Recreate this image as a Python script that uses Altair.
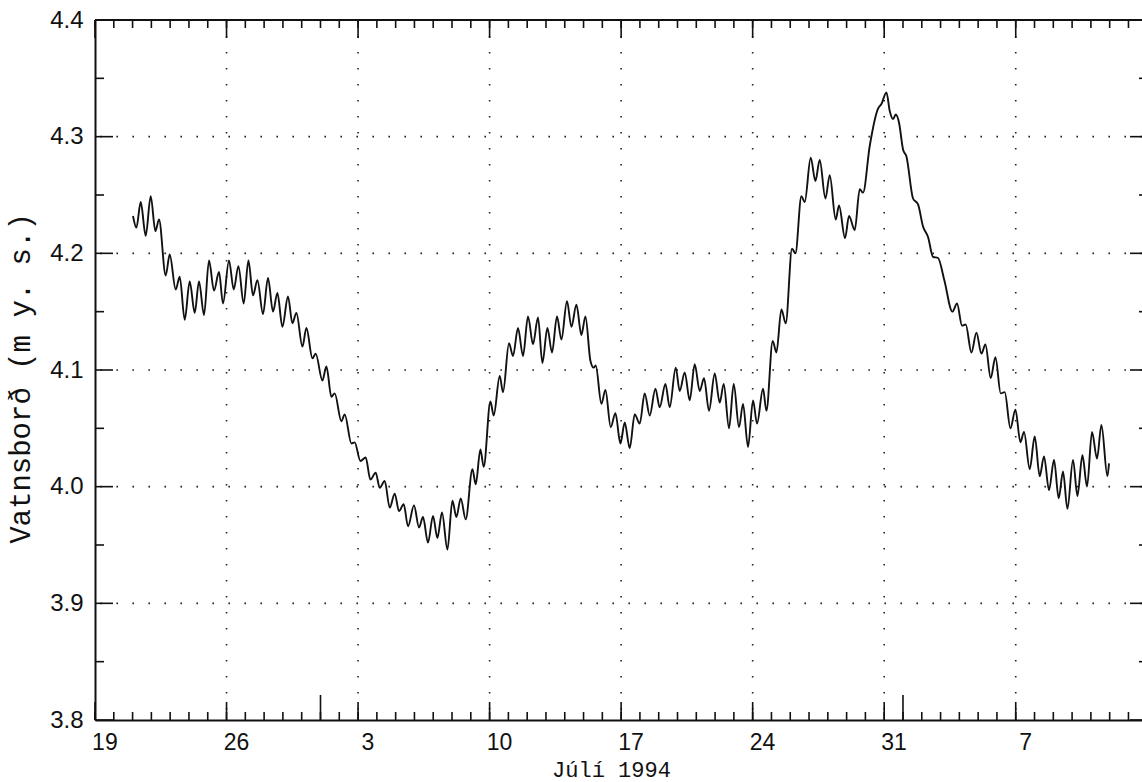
import altair as alt
import pandas as pd

# Turning points of the water-level trace: days after 1994-06-19 00:00 and level (m y. s.)
days = [2.022, 2.203, 2.432, 2.698, 2.964, 3.214, 3.406, 3.763, 3.976, 4.295,
        4.508, 4.774, 5.040, 5.306, 5.535, 5.801, 6.067, 6.333, 6.599, 6.812,
        7.131, 7.382, 7.632, 7.914, 8.164, 8.409, 8.643, 8.941, 9.207, 9.473,
        9.707, 9.973, 10.271, 10.506, 10.719, 11.038, 11.251, 11.570, 11.746, 12.102,
        12.315, 12.581, 12.757, 13.113, 13.289, 13.646, 13.821, 14.125, 14.407, 14.657,
        14.939, 15.152, 15.418, 15.684, 15.950, 16.179, 16.429, 16.658, 16.977, 17.243,
        17.456, 17.722, 17.988, 18.222, 18.467, 18.755, 19.021, 19.234, 19.463, 19.729,
        20.086, 20.261, 20.511, 20.687, 21.043, 21.219, 21.538, 21.714, 22.033, 22.246,
        22.512, 22.778, 23.044, 23.310, 23.576, 23.810, 24.076, 24.321, 24.587, 24.821,
        25.119, 25.354, 25.620, 25.886, 26.099, 26.365, 26.541, 26.648, 26.951, 27.164,
        27.446, 27.696, 27.962, 28.191, 28.457, 28.723, 28.989, 29.255, 29.521, 29.825,
        30.053, 30.357, 30.586, 30.905, 31.118, 31.384, 31.650, 31.916, 32.182, 32.411,
        32.677, 32.981, 33.247, 33.460, 33.742, 33.992, 34.274, 34.487, 34.753, 35.019,
        35.232, 35.551, 35.732, 36.067, 36.264, 36.530, 36.759, 37.094, 37.275, 37.594,
        37.770, 38.089, 38.339, 38.568, 38.872, 39.101, 39.420, 39.596, 39.915, 40.128,
        40.432, 40.698, 40.873, 41.230, 41.672, 41.853, 42.119, 42.295, 42.470, 42.614,
        42.790, 43.003, 43.184, 43.535, 43.801, 44.067, 44.333, 44.599, 44.866, 45.200,
        45.631, 45.876, 46.142, 46.339, 46.642, 46.908, 47.174, 47.387, 47.669, 47.919,
        48.201, 48.414, 48.718, 48.984, 49.250, 49.441, 49.744, 50.010, 50.277, 50.505,
        50.771, 51.037, 51.288, 51.516, 51.751, 52.049, 52.283, 52.549, 52.794, 53.060,
        53.326, 53.560, 53.879, 53.965]
level = [4.232, 4.222, 4.244, 4.215, 4.249, 4.219, 4.229, 4.181, 4.199, 4.169,
         4.180, 4.143, 4.176, 4.149, 4.176, 4.147, 4.194, 4.168, 4.184, 4.157,
         4.194, 4.169, 4.189, 4.157, 4.194, 4.164, 4.177, 4.148, 4.179, 4.150,
         4.166, 4.137, 4.163, 4.140, 4.149, 4.120, 4.136, 4.110, 4.114, 4.091,
         4.103, 4.077, 4.080, 4.056, 4.062, 4.037, 4.038, 4.022, 4.025, 4.006,
         4.012, 3.999, 4.005, 3.982, 3.994, 3.979, 3.985, 3.966, 3.984, 3.965,
         3.974, 3.952, 3.975, 3.956, 3.978, 3.946, 3.988, 3.974, 3.990, 3.972,
         4.015, 4.002, 4.032, 4.017, 4.073, 4.061, 4.095, 4.081, 4.123, 4.112,
         4.136, 4.112, 4.146, 4.122, 4.145, 4.106, 4.136, 4.115, 4.146, 4.126,
         4.159, 4.137, 4.156, 4.130, 4.146, 4.108, 4.102, 4.104, 4.071, 4.083,
         4.051, 4.063, 4.037, 4.055, 4.033, 4.062, 4.054, 4.080, 4.061, 4.084,
         4.068, 4.088, 4.068, 4.102, 4.082, 4.098, 4.074, 4.105, 4.082, 4.093,
         4.065, 4.097, 4.072, 4.088, 4.050, 4.088, 4.051, 4.071, 4.034, 4.074,
         4.054, 4.084, 4.065, 4.125, 4.115, 4.152, 4.140, 4.204, 4.200, 4.249,
         4.244, 4.282, 4.262, 4.280, 4.247, 4.267, 4.229, 4.241, 4.213, 4.232,
         4.220, 4.255, 4.252, 4.292, 4.324, 4.328, 4.338, 4.322, 4.315, 4.319,
         4.312, 4.289, 4.283, 4.247, 4.242, 4.223, 4.214, 4.197, 4.196, 4.177,
         4.150, 4.157, 4.138, 4.139, 4.115, 4.132, 4.114, 4.122, 4.093, 4.111,
         4.080, 4.081, 4.050, 4.066, 4.038, 4.047, 4.015, 4.043, 4.009, 4.026,
         3.997, 4.023, 3.990, 4.013, 3.981, 4.023, 3.992, 4.027, 4.000, 4.047,
         4.024, 4.053, 4.009, 4.020]

y_labels = [3.8, 3.9, 4.0, 4.1, 4.2, 4.3, 4.4]
y_minor = [3.85, 3.95, 4.05, 4.15, 4.25, 4.35]
y_grid = [3.9, 4.0, 4.1, 4.2, 4.3]
week_starts = ["1994-06-19", "1994-06-26", "1994-07-03", "1994-07-10",
               "1994-07-17", "1994-07-24", "1994-07-31", "1994-08-07"]
month_starts = ["1994-07-01", "1994-08-01"]
first_day = "1994-06-19"
n_days = 56

W, H = 1047, 700
start = pd.Timestamp(first_day)
line_df = pd.DataFrame({"t": start + pd.to_timedelta(days, unit="D"), "v": level})
day_df = pd.DataFrame({"t": pd.date_range(first_day, periods=n_days, freq="D")})
week_df = pd.DataFrame({"t": pd.to_datetime(week_starts)})
grid_x_df = pd.DataFrame({"t": pd.to_datetime(week_starts[1:])})
month_df = pd.DataFrame({"t": pd.to_datetime(month_starts)})
ymaj_df = pd.DataFrame({"v": y_labels})
ymin_df = pd.DataFrame({"v": y_minor})
ygrid_df = pd.DataFrame({"v": y_grid})
top_df = pd.DataFrame({"v": [y_labels[-1]]})

label_values = [alt.DateTime(year=int(s[:4]), month=int(s[5:7]), date=int(s[8:]), hours=12)
                for s in week_starts]

xscale = alt.Scale(domain=[alt.DateTime(year=1994, month=6, date=19),
                           alt.DateTime(year=1994, month=8, date=13, hours=17, minutes=17)])
yscale = alt.Scale(domain=[3.8, 4.4], nice=False, zero=False)

xaxis = alt.Axis(values=label_values, format="%-d", ticks=False, grid=False,
                 domain=True, domainColor="#111", domainWidth=2,
                 labelFont="Liberation Sans", labelFontSize=23, labelColor="#111",
                 labelPadding=11, labelAngle=0, labelFlush=False,
                 title="Júlí 1994", titleFont="Liberation Mono", titleFontSize=22,
                 titleFontWeight="normal", titleColor="#111",
                 titleX=516, titleY=56, titleBaseline="alphabetic", titleAnchor="middle")
yaxis = alt.Axis(values=y_labels, format=".1f", ticks=False, grid=False,
                 domain=True, domainColor="#111", domainWidth=2,
                 labelFont="Liberation Sans", labelFontSize=24, labelColor="#111",
                 labelPadding=12, labelFlush=False,
                 title="Vatnsborð (m y. s.)", titleFont="Liberation Mono", titleFontSize=29,
                 titleFontWeight="normal", titleColor="#111",
                 titleX=-66, titleY=358, titleBaseline="alphabetic", titleAngle=270)

X = lambda: alt.X("t:T", scale=xscale, axis=xaxis)
Y = lambda: alt.Y("v:Q", scale=yscale, axis=yaxis)

dot = dict(color="#222", strokeWidth=1.6, strokeDash=[1.6, 14.4])
grid_h = alt.Chart(ygrid_df).mark_rule(**dot).encode(y=Y())
grid_v = alt.Chart(grid_x_df).mark_rule(**dot).encode(x=X())

tick = dict(color="#111", strokeWidth=1.6)
bot_day = alt.Chart(day_df).mark_rule(**tick).encode(x=X(), y=alt.value(H), y2=alt.value(H - 8))
bot_week = alt.Chart(week_df).mark_rule(**tick).encode(x=X(), y=alt.value(H), y2=alt.value(H - 18))
bot_month = alt.Chart(month_df).mark_rule(**tick).encode(x=X(), y=alt.value(H), y2=alt.value(H - 25))
top_day = alt.Chart(day_df).mark_rule(**tick).encode(x=X(), y=alt.value(0), y2=alt.value(8))
top_week = alt.Chart(week_df).mark_rule(**tick).encode(x=X(), y=alt.value(0), y2=alt.value(18))
left_maj = alt.Chart(ymaj_df).mark_rule(**tick).encode(y=Y(), x=alt.value(0), x2=alt.value(18))
left_min = alt.Chart(ymin_df).mark_rule(**tick).encode(y=Y(), x=alt.value(0), x2=alt.value(9))
right_maj = alt.Chart(ymaj_df).mark_rule(**tick).encode(y=Y(), x=alt.value(W), x2=alt.value(W - 12))
right_min = alt.Chart(ymin_df).mark_rule(**tick).encode(y=Y(), x=alt.value(W), x2=alt.value(W - 3))
top_line = alt.Chart(top_df).mark_rule(color="#111", strokeWidth=2).encode(y=Y())

trace = alt.Chart(line_df).mark_line(color="#111", strokeWidth=1.9, interpolate="monotone").encode(
    x=X(), y=Y())

chart = alt.layer(grid_h, grid_v, bot_day, bot_week, bot_month, top_day, top_week,
                  left_maj, left_min, right_maj, right_min, top_line, trace).properties(
    width=W, height=H,
    padding={"left": 95, "top": 20, "right": 0, "bottom": 62},
    autosize=alt.AutoSizeParams(type="none"),
    background="white",
).configure_view(stroke=None)

chart.save("out.html", embed_options={"renderer": "svg", "actions": False})
